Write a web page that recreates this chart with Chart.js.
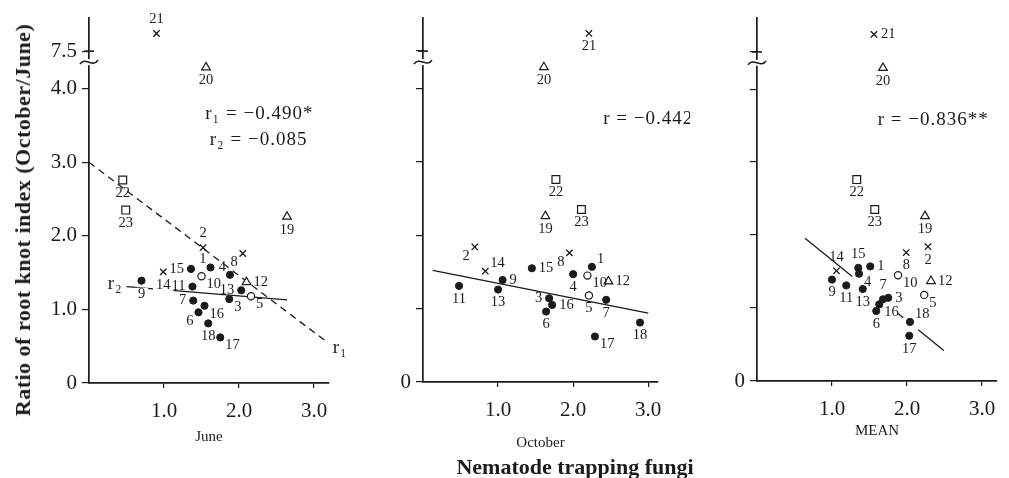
<!DOCTYPE html>
<html>
<head>
<meta charset="utf-8">
<script src="https://cdn.jsdelivr.net/npm/chart.js@4.4.0/dist/chart.umd.min.js"></script>
<style>
  html, body { margin: 0; padding: 0; background: #fff; }
  #wrap { position: relative; width: 1009px; height: 478px; overflow: hidden;
          font-family: "Liberation Serif", serif; color: #1b1b1b; }
  canvas { position: absolute; top: 0; }
  #ytitle { position: absolute; left: 23px; top: 220px; white-space: nowrap; letter-spacing: 0.5px;
            transform: translate(-50%, -50%) rotate(-90deg); font-size: 22px; font-weight: bold; }
  #xtitle { position: absolute; left: 575px; top: 467px; white-space: nowrap;
            transform: translate(-50%, -50%); font-size: 22px; font-weight: bold; }
</style>
</head>
<body>
<div id="wrap">
  <canvas id="june" width="355" height="478" style="left:0px"></canvas>
  <canvas id="october" width="335" height="478" style="left:355px"></canvas>
  <canvas id="mean" width="319" height="478" style="left:690px"></canvas>
  <div id="ytitle">Ratio of root knot index (October/June)</div>
  <div id="xtitle">Nematode trapping fungi</div>
</div>
<script>
// plot numbers 1..23; y = ratio of root knot index, x = nematode trapping fungi
const ratio = [1.57, 1.84, 1.14, 1.47, 1.18, 0.96, 1.12, 1.76, 1.39, 1.45, 1.31, 1.37,
               1.26, 1.51, 1.55, 1.05, 0.62, 0.81, 2.26, 4.29, 7.9, 2.76, 2.35];
const juneFungi = [1.62, 1.52, 1.87, 1.88, 2.16, 1.46, 1.39, 2.05, 0.70, 1.50, 1.38, 2.10,
                   2.03, 0.99, 1.36, 1.54, 1.75, 1.59, 2.64, 1.56, 0.90, 0.45, 0.49];
const octoberFungi = [2.25, 0.69, 1.68, 2.00, 2.21, 1.64, 2.44, 1.95, 1.06, 2.19, 0.48, 2.47,
                      1.00, 0.83, 1.45, 1.72, 2.29, 2.89, 1.63, 1.61, 2.21, 1.77, 2.11];
const meanFungi = [1.51, 2.28, 1.75, 1.36, 2.23, 1.59, 1.68, 1.99, 1.00, 1.88, 1.19, 2.32,
                   1.41, 1.06, 1.35, 1.63, 2.03, 2.04, 2.24, 1.68, 1.56, 1.33, 1.57];

const filledIds = [1, 3, 4, 6, 7, 9, 11, 13, 15, 16, 17, 18];
const openIds = [5, 10];
const crossIds = [2, 8, 14, 21];
const triangleIds = [12, 19, 20];
const squareIds = [22, 23];

const yTicks = [0, 1, 2, 3, 4, 7.5];
const yTickLabels = ['0', '1.0', '2.0', '3.0', '4.0', '7.5'];
const xTicks = [1, 2, 3];
const xTickLabels = ['1.0', '2.0', '3.0'];

// regression lines: [intercept, slope]
const juneR1 = [3.0, -0.77];
const juneR2 = [1.35, -0.083];
const octoberR = [1.546, -0.202];
const meanR = [2.49, -0.832];

const INK = '#1b1b1b';
const SERIF = '"Liberation Serif", "Times New Roman", serif';

// broken y axis: everything from 7.5 up is squeezed just above 4.0
const BREAK_HIGH = 7.5, BREAK_POS = 4.51, BREAK_MARK = 4.36;
function axisPos(v) { return v < BREAK_HIGH ? v : BREAK_POS + (v - BREAK_HIGH) * 0.6; }

function markerSets(xs) {
  const pick = ids => ids.map(id => ({ x: xs[id - 1], y: axisPos(ratio[id - 1]) }));
  return [
    { data: pick(filledIds), pointStyle: 'circle', pointRadius: 3.6, backgroundColor: INK, borderColor: INK, borderWidth: 1 },
    { data: pick(openIds), pointStyle: 'circle', pointRadius: 3.6, backgroundColor: '#fff', borderColor: INK, borderWidth: 1.2 },
    { data: pick(crossIds), pointStyle: 'crossRot', pointRadius: 4.5, borderColor: INK, borderWidth: 1.3 },
    { data: pick(triangleIds), pointStyle: 'triangle', pointRadius: 5, backgroundColor: '#fff', borderColor: INK, borderWidth: 1.2 },
    { data: pick(squareIds), pointStyle: 'rect', pointRadius: 5.5, backgroundColor: '#fff', borderColor: INK, borderWidth: 1.2 }
  ].map(d => Object.assign(d, { order: 0, pointHoverRadius: d.pointRadius }));
}

function fitLine(coef, segments, dash) {
  const data = [];
  segments.forEach(([a, b], i) => {
    if (i) data.push({ x: (data[data.length - 1].x + a) / 2, y: null });
    data.push({ x: a, y: coef[0] + coef[1] * a }, { x: b, y: coef[0] + coef[1] * b });
  });
  return { type: 'line', data, showLine: true, pointRadius: 0, borderColor: INK,
           borderWidth: 1.3, borderDash: dash || [], spanGaps: false, order: 5 };
}

const OFF = {
  n: [0, -14, 'center'], s: [0, 13, 'center'], e: [7, 0, 'left'], w: [-7, 0, 'right'],
  ne: [5, -8, 'left'], nw: [-4, -8, 'right'], se: [5, 8, 'left'], sw: [-5, 9, 'right']
};

function paperMarks(xs, place, notes, knockout) {
  return {
    id: 'paperMarks',
    afterDatasetsDraw(chart) {
      const { ctx, scales: { x, y } } = chart;
      ctx.save();
      ctx.fillStyle = INK;
      ctx.strokeStyle = INK;
      ctx.textBaseline = 'middle';
      ctx.font = '14.5px ' + SERIF;
      place.forEach((p, i) => {
        const [dx, dy, al] = OFF[p];
        const tx = x.getPixelForValue(xs[i]) + dx;
        const ty = y.getPixelForValue(axisPos(ratio[i])) + dy;
        const label = String(i + 1);
        ctx.textAlign = al;
        if (knockout.includes(i + 1)) {
          const w = ctx.measureText(label).width;
          const left = al === 'center' ? tx - w / 2 : al === 'left' ? tx : tx - w;
          ctx.fillStyle = '#fff';
          ctx.fillRect(left - 3, ty - 6, w + 6, 12);
          ctx.fillStyle = INK;
        }
        ctx.fillText(label, tx, ty);
      });
      ctx.font = '19px ' + SERIF;
      ctx.letterSpacing = '1px';
      ctx.textAlign = 'left';
      notes.forEach(n => ctx.fillText(n.text, x.getPixelForValue(n.x), y.getPixelForValue(n.y)));
      ctx.letterSpacing = '0px';

      // axis break
      const ax = chart.chartArea.left;
      const by = y.getPixelForValue(BREAK_MARK);
      ctx.fillStyle = '#fff';
      ctx.fillRect(ax - 2, by - 3, 4, 6);
      ctx.lineWidth = 1.6;
      ctx.beginPath();
      ctx.moveTo(ax - 9, by + 2);
      ctx.bezierCurveTo(ax - 4, by - 6, ax + 4, by + 6, ax + 9, by - 2);
      ctx.stroke();
      const bt = y.getPixelForValue(BREAK_POS);
      ctx.beginPath();
      ctx.moveTo(ax - 5, bt);
      ctx.lineTo(ax + 5, bt);
      ctx.stroke();
      ctx.restore();
    }
  };
}

function makePanel(id, cfg) {
  return new Chart(document.getElementById(id), {
    type: 'scatter',
    data: { datasets: markerSets(cfg.xs).concat(cfg.lines) },
    options: {
      responsive: false,
      animation: false,
      events: [],
      layout: { padding: { left: 0, top: cfg.top, right: cfg.right, bottom: 0 } },
      plugins: { legend: { display: false }, tooltip: { enabled: false } },
      scales: {
        x: {
          type: 'linear', min: 0, max: cfg.xMax,
          afterFit(s) { s.height = cfg.axisHeight; },
          afterBuildTicks(s) { s.ticks = xTicks.map(v => ({ value: v })); },
          grid: { drawOnChartArea: false, tickLength: 5, color: INK, lineWidth: 1.2 },
          border: { color: INK, width: 1.7 },
          ticks: { color: INK, font: { family: SERIF, size: 21 }, padding: 11,
                   maxRotation: 0, autoSkip: false, callback: (v, i) => xTickLabels[i] },
          title: { display: true, text: cfg.xTitle, color: INK, font: { family: SERIF, size: 15 },
                   padding: { top: 0, bottom: cfg.titlePad } }
        },
        y: {
          type: 'linear', min: 0, max: cfg.yMax,
          afterFit(s) { s.width = cfg.left; },
          afterBuildTicks(s) { s.ticks = yTicks.map(v => ({ value: axisPos(v) })); },
          grid: { drawOnChartArea: false, tickLength: 7, color: INK, lineWidth: 1.2 },
          border: { color: INK, width: 1.7 },
          ticks: { color: INK, font: { family: SERIF, size: 21 }, padding: 5,
                   callback: (v, i) => cfg.yLabels ? yTickLabels[i] : (i === 0 ? '0' : '') }
        }
      }
    },
    plugins: [paperMarks(cfg.xs, cfg.place, cfg.notes, cfg.knockout)]
  });
}

makePanel('june', {
  xs: juneFungi, xTitle: 'June', titlePad: 32, yLabels: true,
  left: 89, right: 26, top: 13, axisHeight: 95, xMax: 3.2, yMax: 4.966,
  lines: [fitLine(juneR1, [[0, 3.19]], [7, 5]), fitLine(juneR2, [[0.5, 2.64]])],
  place: ['nw', 'n', 'se', 'nw', 'se', 'sw', 'w', 'sw', 's', 'se', 'w', 'e',
          'w', 's', 'w', 'se', 'se', 's', 's', 's', 'n', 's', 's'],
  knockout: [9, 14],
  notes: [
    { text: 'r\u2081 = \u22120.490*', x: 1.55, y: 3.66 },
    { text: 'r\u2082 = \u22120.085', x: 1.61, y: 3.30 },
    { text: 'r\u2081', x: 3.25, y: 0.48 },
    { text: 'r\u2082', x: 0.25, y: 1.34 }
  ]
});

makePanel('october', {
  xs: octoberFungi, xTitle: 'October', titlePad: 26, yLabels: false,
  left: 68, right: 32, top: 12, axisHeight: 96, xMax: 3.13, yMax: 4.966,
  lines: [fitLine(octoberR, [[0.13, 3.0]])],
  place: ['ne', 'sw', 'w', 's', 's', 's', 's', 'sw', 'e', 'se', 's', 'e',
          's', 'ne', 'e', 'e', 'se', 's', 's', 's', 's', 's', 's'],
  knockout: [],
  notes: [{ text: 'r = \u22120.442', x: 2.4, y: 3.58 }]
});

makePanel('mean', {
  xs: meanFungi, xTitle: 'MEAN', titlePad: 38, yLabels: false,
  left: 67, right: 12, top: 10, axisHeight: 97, xMax: 3.2, yMax: 4.98,
  lines: [fitLine(meanR, [[0.64, 1.27], [1.88, 1.95], [2.15, 2.49]])],
  place: ['e', 's', 'e', 'se', 'se', 's', 'n', 's', 's', 'se', 's', 'e',
          's', 'n', 'n', 'se', 's', 'ne', 's', 's', 'e', 's', 's'],
  knockout: [],
  notes: [{ text: 'r = \u22120.836**', x: 1.61, y: 3.57 }]
});
</script>
</body>
</html>
